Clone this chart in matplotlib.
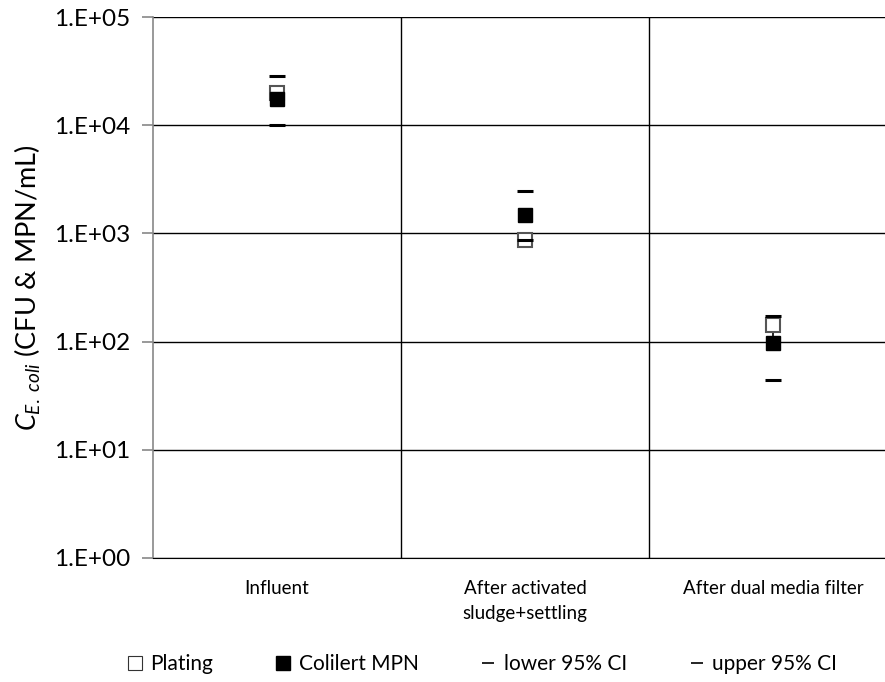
import numpy as np
import matplotlib
matplotlib.use("Agg")
import matplotlib.pyplot as plt
from matplotlib.lines import Line2D
from matplotlib.ticker import FixedLocator, NullLocator

plt.rcParams['font.family'] = ['Lato', 'DejaVu Sans']
plt.rcParams['mathtext.fontset'] = 'custom'
plt.rcParams['mathtext.rm'] = 'Lato'
plt.rcParams['mathtext.it'] = 'Lato:italic'

# Daten
categories = ['Influent', 'After activated\nsludge+settling', 'After dual media filter']
plating = [2.0e4, 860, 143]
plating_lo = [1.8e4, 860, 100]
plating_hi = [2.15e4, 950, 171]
colilert = [1.75e4, 1475, 98]
lower_ci = [1.0e4, 860, 44.5]
upper_ci = [2.86e4, 2470, 171]
yticks = [1e0, 1e1, 1e2, 1e3, 1e4, 1e5]
ytick_labels = ['1.E+00', '1.E+01', '1.E+02', '1.E+03', '1.E+04', '1.E+05']

fig = plt.figure(figsize=(8.85, 6.82), dpi=100)
ax = fig.add_axes([153/885, 124/682, 744/885, 541/682])
x = np.arange(len(categories))

# Gitter
for yv in yticks:
    ax.axhline(yv, color='black', lw=1.0, zorder=1)
for xv in [0.5, 1.5]:
    ax.axvline(xv, color='black', lw=1.0, zorder=1)

# Fehlerbalken Plating
err = [np.array(plating) - np.array(plating_lo), np.array(plating_hi) - np.array(plating)]
ax.errorbar(x, plating, yerr=err, fmt='none', ecolor='black', elinewidth=1.2, capsize=0, zorder=2)
ax.plot(x, plating, 's', ms=10, mfc='white', mec='#555555', mew=1.5, ls='none', zorder=3)
ax.plot(x, lower_ci, '_', ms=12, mew=2.2, color='black', ls='none', zorder=4)
ax.plot(x, upper_ci, '_', ms=12, mew=2.2, color='black', ls='none', zorder=4)
ax.plot(x, colilert, 's', ms=10, mfc='black', mec='black', ls='none', zorder=5)

ax.set_yscale('log')
ax.set_ylim(1e0, 1e5)
ax.set_xlim(-0.5, 2.5)
ax.yaxis.set_major_locator(FixedLocator(yticks))
ax.yaxis.set_minor_locator(NullLocator())
ax.set_yticks(yticks)
ax.set_yticklabels(ytick_labels, fontsize=17.5)
ax.set_xticks(x)
ax.set_xticklabels(categories, fontsize=13.5, linespacing=1.55)
ax.tick_params(axis='x', length=0, pad=16)
ax.tick_params(axis='y', length=8, color='#888888', width=1.2, pad=8)

for s in ['top', 'right']:
    ax.spines[s].set_visible(False)
ax.spines['left'].set_color('#888888')
ax.spines['left'].set_linewidth(1.2)
ax.spines['bottom'].set_color('black')

ax.set_ylabel(r'$C_{E.\ coli}$ (CFU & MPN/mL)', fontsize=19.5, labelpad=8)

handles = [
    Line2D([], [], marker='s', ms=10, mfc='white', mec='#333333', mew=0.8, ls='none'),
    Line2D([], [], marker='s', ms=10, mfc='black', mec='black', ls='none'),
    Line2D([], [], marker='_', ms=9, mew=1.2, color='black', ls='none'),
    Line2D([], [], marker='_', ms=9, mew=1.2, color='black', ls='none'),
]
labels = ['Plating', 'Colilert MPN', 'lower 95% CI', 'upper 95% CI']
fig.legend(handles, labels, loc='center', bbox_to_anchor=(0.545, 0.026), ncol=4,
           frameon=False, fontsize=15, handlelength=0.7, handletextpad=0.4,
           columnspacing=3.0)

fig.savefig('out.png', dpi=100)
